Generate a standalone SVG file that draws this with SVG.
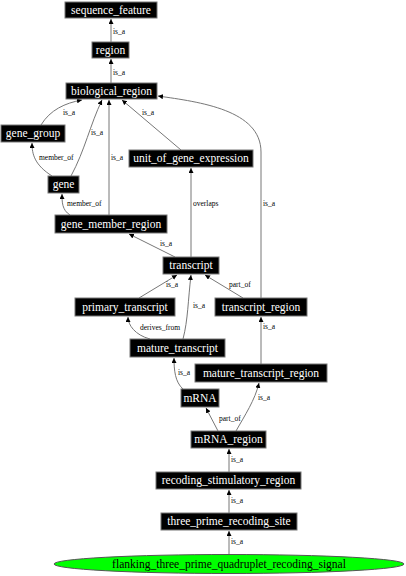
<svg xmlns="http://www.w3.org/2000/svg" width="406" height="576" viewBox="0 0 406 576">
<defs>
<marker id="ah" markerUnits="userSpaceOnUse" markerWidth="6" markerHeight="6" refX="5" refY="2.5" orient="auto">
<path d="M0,0 L5,2.5 L0,5 Z" fill="#000"/>
</marker>
<style>
.n rect{fill:#000;stroke:#777;stroke-width:1}
.n text{fill:#fff;font-family:"Liberation Serif","DejaVu Serif",serif;font-size:11.5px;text-anchor:middle}
.e path{fill:none;stroke:#777;stroke-width:1;marker-end:url(#ah)}
.e text{fill:#000;font-family:"Liberation Serif","DejaVu Serif",serif;font-size:7.5px}
</style>
</defs>
<rect width="406" height="576" fill="#fff"/>
<g id="edges" class="e">
<path d="M111,42 L111,19"/><text x="113" y="34">is_a</text>
<path d="M111,83 L111,59"/><text x="113" y="75">is_a</text>
<path d="M41,125 C50,110 65,103 82,100"/><text x="63" y="115">is_a</text>
<path d="M71,176 C85,150 90,125 102,100"/><text x="91" y="135">is_a</text>
<path d="M109,215 L109,100"/><text x="111" y="160">is_a</text>
<path d="M181,150 L122,100"/><text x="142" y="115">is_a</text>
<path d="M261,298 L261,152 C261,110 200,102 158,96"/><text x="263" y="206">is_a</text>
<path d="M52,176 C35,165 32,155 32,143"/><text x="39" y="160">member_of</text>
<path d="M70,215 C62,210 62,202 62,194"/><text x="67" y="206">member_of</text>
<path d="M191,257 L191,168"/><text x="193" y="206">overlaps</text>
<path d="M175,257 L129,234"/><text x="160" y="246">is_a</text>
<path d="M139,298 L177,275"/><text x="166" y="287">is_a</text>
<path d="M183,339 C188,320 188,300 191,275"/><text x="193" y="308">is_a</text>
<path d="M243,298 L205,275"/><text x="229" y="287">part_of</text>
<path d="M150,339 C135,335 128,325 128,317"/><text x="140" y="330">derives_from</text>
<path d="M261,364 L261,317"/><text x="263" y="329">is_a</text>
<path d="M183,389 C175,382 174,370 174,358"/><text x="178" y="375">is_a</text>
<path d="M218,431 L206,408"/><text x="219" y="421">part_of</text>
<path d="M236,431 C245,415 255,400 259,383"/><text x="258" y="400">is_a</text>
<path d="M229,472 L229,449"/><text x="231" y="462">is_a</text>
<path d="M229,513 L229,490"/><text x="231" y="503">is_a</text>
<path d="M229,554 L229,531"/><text x="231" y="544">is_a</text>
</g>
<g id="sequence_feature" class="n"><rect x="65" y="2" width="92" height="16"/><text x="111" y="14">sequence_feature</text></g>
<g id="region" class="n"><rect x="92" y="42" width="37" height="16"/><text x="110.5" y="54">region</text></g>
<g id="biological_region" class="n"><rect x="66" y="83" width="91" height="16"/><text x="111.5" y="95">biological_region</text></g>
<g id="gene_group" class="n"><rect x="1" y="125" width="64" height="17"/><text x="33" y="137">gene_group</text></g>
<g id="gene" class="n"><rect x="48" y="176" width="31" height="17"/><text x="63.5" y="188">gene</text></g>
<g id="unit_of_gene_expression" class="n"><rect x="129" y="150" width="124" height="17"/><text x="191" y="162">unit_of_gene_expression</text></g>
<g id="gene_member_region" class="n"><rect x="55" y="215" width="112" height="18"/><text x="111" y="228">gene_member_region</text></g>
<g id="transcript" class="n"><rect x="163" y="257" width="56" height="17"/><text x="191" y="269">transcript</text></g>
<g id="primary_transcript" class="n"><rect x="75" y="298" width="100" height="18"/><text x="125" y="311">primary_transcript</text></g>
<g id="transcript_region" class="n"><rect x="215" y="298" width="92" height="18"/><text x="261" y="311">transcript_region</text></g>
<g id="mature_transcript" class="n"><rect x="130" y="339" width="95" height="18"/><text x="177.5" y="352">mature_transcript</text></g>
<g id="mature_transcript_region" class="n"><rect x="195" y="364" width="132" height="18"/><text x="261" y="377">mature_transcript_region</text></g>
<g id="mRNA" class="n"><rect x="181" y="389" width="38" height="18"/><text x="200" y="402">mRNA</text></g>
<g id="mRNA_region" class="n"><rect x="191" y="431" width="75" height="17"/><text x="228.5" y="443">mRNA_region</text></g>
<g id="recoding_stimulatory_region" class="n"><rect x="156" y="472" width="145" height="17"/><text x="228.5" y="484">recoding_stimulatory_region</text></g>
<g id="three_prime_recoding_site" class="n"><rect x="161" y="513" width="136" height="17"/><text x="229" y="525">three_prime_recoding_site</text></g>
<g id="flanking_three_prime_quadruplet_recoding_signal"><ellipse cx="229" cy="564" rx="175" ry="9.5" fill="#00ff00" stroke="#555" stroke-width="1"/><text x="229" y="568" font-family="Liberation Serif, DejaVu Serif, serif" font-size="11.5" text-anchor="middle" fill="#000">flanking_three_prime_quadruplet_recoding_signal</text></g>
</svg>
